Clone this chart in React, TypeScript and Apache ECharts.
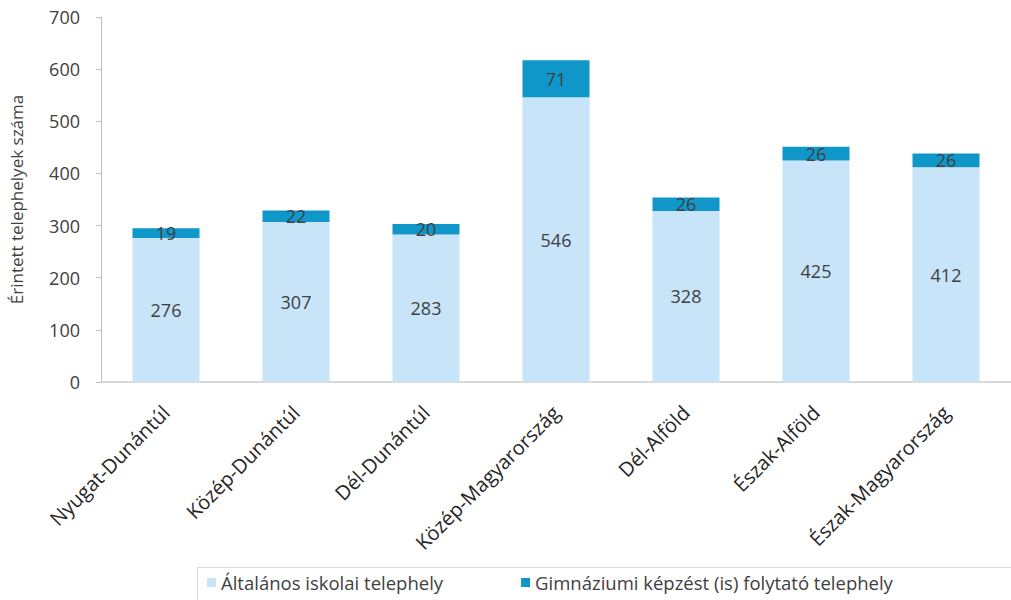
import React, { useEffect, useRef } from "react";
import * as echarts from "echarts";

const categories = [
  "Nyugat-Dunántúl",
  "Közép-Dunántúl",
  "Dél-Dunántúl",
  "Közép-Magyarország",
  "Dél-Alföld",
  "Észak-Alföld",
  "Észak-Magyarország",
];
const altalanos = [276, 307, 283, 546, 328, 425, 412];
const gimnaziumi = [19, 22, 20, 71, 26, 26, 26];
const seriesNames = ["Általános iskolai telephely", "Gimnáziumi képzést (is) folytató telephely"];
const yAxisName = "Érintett telephelyek száma";

const FONT = "'Open Sans', sans-serif";

export default function App() {
  const ref = useRef<HTMLDivElement>(null);
  useEffect(() => {
    document.body.style.margin = "0";
    const chart = echarts.init(ref.current!, null, { renderer: "svg" });
    chart.setOption({
      animation: false,
      backgroundColor: "#ffffff",
      textStyle: { fontFamily: FONT },
      grid: { left: 98, top: 17, width: 925, height: 365, containLabel: false },
      graphic: [
        {
          type: "rect",
          shape: { x: 197.5, y: 567.5, width: 900, height: 60 },
          style: { fill: "none", stroke: "#D9D9D9", lineWidth: 1 },
          silent: true,
        },
      ],
      legend: {
        left: 197,
        top: 567,
        padding: [6, 5, 5, 10],
        itemGap: 78,
        itemWidth: 9,
        itemHeight: 9,
        icon: "rect",
        textStyle: { fontSize: 18.5, color: "#404040", fontFamily: FONT },
        data: seriesNames,
      },
      xAxis: {
        type: "category",
        data: categories,
        axisLine: { lineStyle: { color: "#D9D9D9", width: 2 } },
        axisTick: { show: false },
        axisLabel: {
          interval: 0,
          rotate: 45,
          margin: 27,
          fontSize: 20,
          color: "#262626",
          fontFamily: FONT,
        },
      },
      yAxis: {
        type: "value",
        min: 0,
        max: 700,
        interval: 100,
        name: yAxisName,
        nameLocation: "middle",
        nameGap: 76,
        nameTextStyle: { fontSize: 17, color: "#404040", fontFamily: FONT },
        axisLine: { show: true, lineStyle: { color: "#BFBFBF", width: 1 } },
        axisTick: { show: true, inside: false, length: 5, lineStyle: { color: "#BFBFBF" } },
        splitLine: { show: false },
        axisLabel: { margin: 21, fontSize: 18, color: "#404040", fontFamily: FONT },
      },
      series: [
        {
          name: seriesNames[0],
          type: "bar",
          stack: "total",
          barWidth: 67,
          data: altalanos,
          itemStyle: { color: "#C7E4F8" },
          label: {
            show: true,
            position: "inside",
            fontSize: 18,
            color: "#404040",
            fontFamily: FONT,
          },
        },
        {
          name: seriesNames[1],
          type: "bar",
          stack: "total",
          barWidth: 67,
          data: gimnaziumi,
          itemStyle: { color: "#1097C9" },
          label: {
            show: true,
            position: "inside",
            fontSize: 18,
            color: "#404040",
            fontFamily: FONT,
          },
        },
      ],
    });
    return () => chart.dispose();
  }, []);
  return <div ref={ref} style={{ width: 1011, height: 600 }} />;
}
